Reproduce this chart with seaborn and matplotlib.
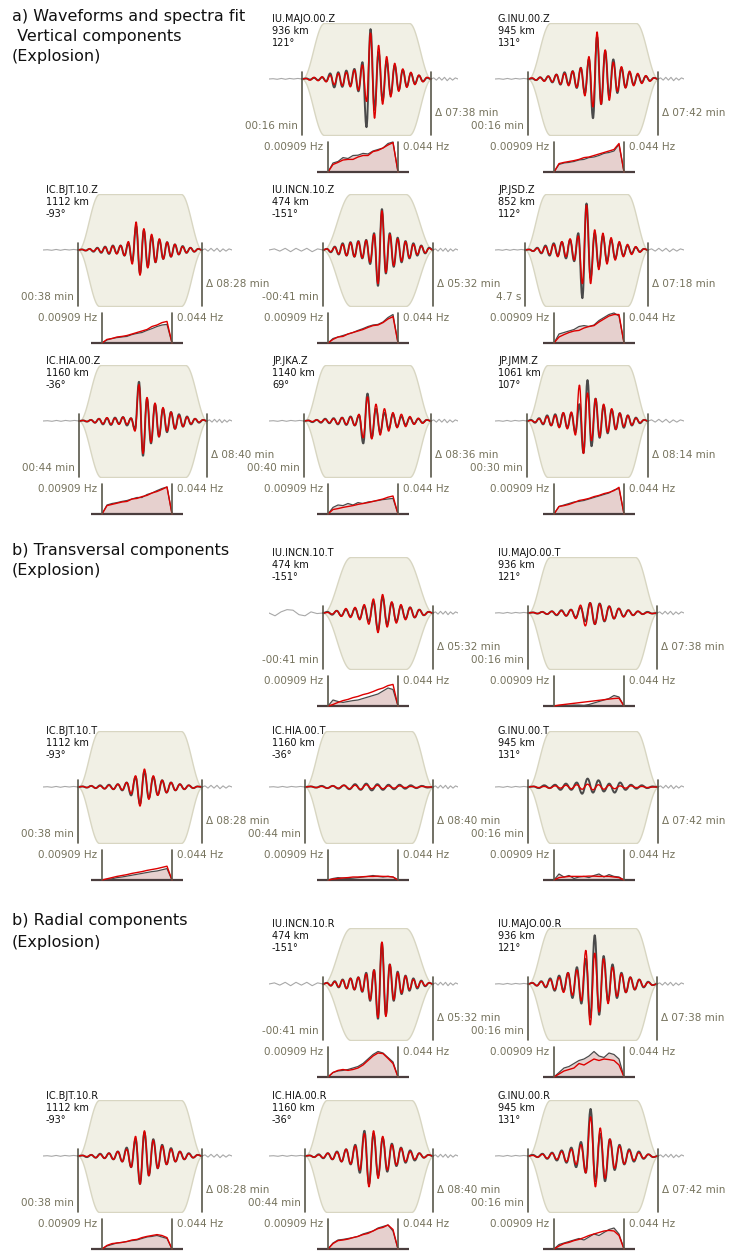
import numpy as np
import matplotlib
matplotlib.use("Agg")
import matplotlib.pyplot as plt
from matplotlib.path import Path
from matplotlib.patches import PathPatch
import seaborn as sns

# --- station metadata -------------------------------------------------------
stations = ["IU.MAJO.00", "G.INU.00", "IC.BJT.10", "IU.INCN.10",
            "JP.JSD", "IC.HIA.00", "JP.JKA", "JP.JMM"]
dist_km = [936, 945, 1112, 474, 852, 1160, 1140, 1061]
azimuth = [121, 131, -93, -151, 112, -36, 69, 107]
win_start = [16, 16, 38, -41, 4.7, 44, 40, 30]        # s
win_len = [458, 462, 508, 332, 438, 520, 516, 494]    # s

F_LO, F_HI = 0.00909, 0.044

# --- waveform extrema (normalised, 1 = taper height) -------------------------
majo_z_obs = [0, .01, -.01, .02, -.02, .03, -.04, .1, -.15, .12, -.14, .15, -.12, .18, -.22, .3, -.86, .89, -.55, .48, -.38, .32, -.28, .24, -.2, .16, -.13, .1, -.08, .06, -.04, .02, 0]
majo_z_syn = [0, .01, -.02, .03, -.03, .04, -.05, .07, -.1, .1, -.12, .12, -.14, .16, -.2, .25, -.4, .82, -.7, .6, -.45, .4, -.32, .28, -.22, .18, -.15, .12, -.1, .07, -.05, .03, 0]
inu_z_obs = [0, .01, -.02, .03, -.03, .05, -.06, .08, -.1, .12, -.1, .14, -.16, .2, -.25, .35, -.7, .75, -.45, .5, -.3, .35, -.25, .2, -.15, .12, -.1, .08, -.06, .05, -.03, .02, 0]
inu_z_syn = [0, .02, -.02, .03, -.04, .05, -.05, .08, -.09, .1, -.12, .14, -.15, .2, -.3, .4, -.5, .84, -.45, .52, -.38, .3, -.22, .22, -.16, .14, -.12, .1, -.08, .06, -.04, .02, 0]
bjt_z_obs = [0, .01, -.01, .02, -.03, .04, -.05, .06, -.07, .08, -.06, .08, -.1, .12, -.2, .42, -.42, .35, -.3, .25, -.22, .18, -.16, .14, -.12, .1, -.08, .07, -.05, .04, -.03, .02, 0]
bjt_z_syn = [0, .01, -.01, .02, -.02, .03, -.04, .05, -.06, .07, -.07, .08, -.1, .15, -.25, .5, -.45, .38, -.32, .28, -.22, .2, -.16, .14, -.12, .1, -.08, .06, -.05, .04, -.03, .02, 0]
incn_z_obs = [0, .02, -.04, .06, -.08, .12, -.1, .14, -.12, .16, -.15, .18, -.25, .3, -.64, .73, -.42, .3, -.3, .22, -.22, .16, -.15, .12, -.1, .08, -.06, .04, 0]
incn_z_syn = [0, .02, -.03, .05, -.07, .1, -.1, .13, -.12, .15, -.14, .17, -.22, .28, -.6, .7, -.4, .28, -.28, .2, -.2, .15, -.14, .1, -.08, .07, -.05, .03, 0]
jsd_z_obs = [0, .01, -.02, .04, -.06, .08, -.1, .12, -.1, .14, -.15, .18, -.2, .3, -.86, .83, -.5, .3, -.3, .25, -.2, .18, -.15, .12, -.1, .08, -.06, .05, -.03, .02, 0]
jsd_z_syn = [0, .01, -.02, .03, -.05, .06, -.08, .1, -.12, .15, -.12, .2, -.18, .25, -.6, .8, -.6, .36, -.35, .3, -.25, .22, -.18, .15, -.12, .1, -.08, .06, -.04, .02, 0]
hia_z_obs = [0, .01, -.01, .02, -.03, .04, -.06, .05, -.07, .06, -.05, .07, -.08, .05, -.15, .7, -.62, .4, -.4, .3, -.28, .22, -.2, .16, -.14, .12, -.1, .08, -.06, .04, -.03, .02, 0]
hia_z_syn = [0, .01, -.01, .02, -.03, .04, -.05, .06, -.06, .05, -.06, .07, -.06, .05, -.18, .65, -.58, .42, -.38, .32, -.28, .24, -.18, .16, -.14, .1, -.1, .07, -.05, .04, -.02, .02, 0]
jka_z_obs = [0, .01, -.02, .02, -.03, .04, -.04, .05, -.06, .06, -.07, .08, -.08, .1, -.4, .49, -.3, .22, -.2, .15, -.14, .12, -.1, .08, -.07, .06, -.05, .04, -.03, .02, 0]
jka_z_syn = [0, .01, -.01, .02, -.02, .03, -.03, .04, -.05, .06, -.06, .07, -.08, .12, -.3, .43, -.32, .3, -.25, .22, -.18, .15, -.12, .12, -.1, .08, -.06, .05, -.04, .02, 0]
jmm_z_obs = [0, .02, -.03, .05, -.06, .1, -.08, .12, -.1, .14, -.12, .14, -.2, .3, -.57, .73, -.45, .4, -.3, .28, -.22, .2, -.15, .14, -.12, .1, -.08, .06, -.04, .02, 0]
jmm_z_syn = [0, .01, -.02, .04, -.05, .08, -.08, .1, -.12, .15, -.14, .16, -.25, .64, -.58, .5, -.35, .4, -.28, .3, -.2, .22, -.15, .14, -.1, .1, -.07, .05, -.03, .02, 0]

incn_t_obs = [0, .02, -.03, .04, -.05, .06, -.06, .08, -.1, .12, -.15, .2, -.3, .28, -.2, .18, -.15, .12, -.1, .1, -.08, .06, -.04, .02, 0]
incn_t_syn = [0, .01, -.02, .04, -.06, .08, -.08, .1, -.12, .15, -.2, .25, -.35, .33, -.25, .2, -.18, .15, -.12, .1, -.08, .06, -.04, .02, 0]
majo_t_obs = [0, .01, -.01, .02, -.02, .03, -.04, .05, -.05, .06, -.08, .1, -.15, .18, -.2, .17, -.15, .12, -.1, .08, -.06, .05, -.04, .03, -.02, .02, -.01, 0]
majo_t_syn = [0, .01, -.01, .02, -.02, .03, -.03, .04, -.05, .06, -.1, .14, -.23, .18, -.2, .16, -.14, .12, -.1, .08, -.07, .05, -.04, .03, -.02, .01, -.01, 0]
bjt_t_obs = [0, .01, -.01, .02, -.02, .03, -.03, .04, -.04, .05, -.06, .08, -.15, .18, -.3, .28, -.2, .18, -.14, .12, -.1, .08, -.06, .05, -.04, .03, -.02, .01, 0]
bjt_t_syn = [0, .01, -.01, .02, -.02, .02, -.03, .03, -.04, .05, -.05, .08, -.12, .2, -.34, .32, -.22, .2, -.15, .12, -.1, .08, -.06, .05, -.04, .03, -.02, .01, 0]
hia_t_obs = [0, .01, -.01, .02, -.02, .02, -.03, .03, -.04, .05, -.05, .06, -.06, .05, -.05, .04, -.04, .04, -.03, .03, -.02, .02, -.01, 0]
hia_t_syn = [0, .01, -.01, .01, -.02, .02, -.02, .03, -.03, .03, -.04, .04, -.03, .03, -.03, .02, -.02, .02, -.01, .01, -.01, .01, 0, 0]
inu_t_obs = [0, .01, -.02, .03, -.02, .04, -.05, .06, -.05, .08, -.12, .15, -.1, .12, -.08, .06, -.1, .08, -.05, .04, -.03, .03, -.02, .01, 0]
inu_t_syn = [0, .01, -.01, .01, -.02, .02, -.02, .03, -.03, .04, -.04, .05, -.05, .04, -.04, .03, -.03, .02, -.02, .02, -.01, .01, -.01, 0, 0]

incn_r_obs = [0, .02, -.03, .05, -.06, .08, -.08, .1, -.1, .12, -.14, .2, -.3, .25, -.62, .73, -.55, .35, -.3, .22, -.18, .15, -.12, .1, -.08, .06, -.04, .02, 0]
incn_r_syn = [0, .02, -.03, .04, -.05, .07, -.08, .1, -.1, .12, -.13, .18, -.28, .25, -.6, .75, -.58, .35, -.28, .2, -.16, .14, -.1, .08, -.06, .05, -.03, .02, 0]
majo_r_obs = [0, .02, -.03, .05, -.06, .1, -.12, .15, -.12, .2, -.25, .3, -.35, .45, -.6, .87, -.55, .5, -.3, .35, -.25, .2, -.15, .12, -.1, .08, -.06, .04, -.02, 0]
majo_r_syn = [0, .02, -.03, .04, -.05, .08, -.1, .12, -.15, .2, -.2, .25, -.3, .6, -.73, .55, -.5, .45, -.35, .3, -.22, .18, -.15, .12, -.1, .08, -.05, .03, -.02, 0]
bjt_r_obs = [0, .01, -.02, .02, -.03, .04, -.04, .05, -.06, .08, -.1, .15, -.2, .3, -.5, .42, -.35, .3, -.22, .2, -.15, .14, -.1, .08, -.06, .05, -.03, .02, 0]
bjt_r_syn = [0, .01, -.01, .02, -.03, .03, -.04, .05, -.06, .08, -.1, .12, -.2, .35, -.5, .45, -.35, .28, -.22, .18, -.15, .12, -.1, .08, -.06, .04, -.03, .02, 0]
hia_r_obs = [0, .01, -.02, .03, -.04, .05, -.06, .08, -.1, .12, -.15, .2, -.3, .45, -.5, .4, -.35, .32, -.28, .22, -.18, .15, -.12, .1, -.08, .05, -.03, .02, 0]
hia_r_syn = [0, .01, -.02, .02, -.03, .05, -.06, .07, -.1, .12, -.14, .18, -.25, .4, -.55, .45, -.4, .35, -.25, .2, -.16, .14, -.1, .08, -.06, .05, -.03, .02, 0]
inu_r_obs = [0, .02, -.02, .04, -.05, .06, -.08, .1, -.12, .15, -.2, .25, -.3, .84, -.45, .4, -.45, .3, -.25, .2, -.15, .12, -.1, .08, -.05, .03, -.02, 0]
inu_r_syn = [0, .01, -.02, .03, -.04, .05, -.06, .08, -.1, .12, -.15, .2, -.3, .7, -.55, .5, -.4, .3, -.22, .18, -.14, .1, -.08, .06, -.04, .03, -.02, 0]

# grey unwindowed trace before / after the window
grey_pre = [0, .005, -.005, .01, -.005, .01, 0, .01, 0]
grey_post = [0, .02, -.02, .03, -.02, .03, -.03, .02, -.02, .02, 0]
incn_pre = [0, .02, -.02, .03, -.03, .03, -.02, .03, -.03, .02, 0]
incn_t_pre = [0, -.05, .02, .06, .05, -.03, -.05, .02, -.01, 0]

# --- amplitude spectra between F_LO and F_HI (normalised) -------------------
majo_z_sobs = [0, .3, .35, .48, .45, .55, .56, .62, .6, .7, .75, .8, .95, 1.0, 0]
majo_z_ssyn = [0, .25, .32, .4, .42, .42, .5, .55, .55, .68, .72, .8, .9, .98, 0]
inu_z_sobs = [0, .25, .3, .32, .35, .4, .42, .48, .5, .55, .62, .65, .7, .92, 0]
inu_z_ssyn = [0, .28, .32, .35, .38, .42, .48, .5, .55, .6, .65, .7, .75, .95, 0]
bjt_z_sobs = [0, .1, .15, .18, .2, .22, .28, .32, .35, .42, .48, .55, .6, .62, 0]
bjt_z_ssyn = [0, .12, .15, .2, .22, .25, .3, .35, .4, .45, .55, .6, .68, .72, 0]
incn_z_sobs = [0, .15, .2, .25, .3, .35, .42, .48, .55, .6, .62, .7, .85, .95, 0]
incn_z_ssyn = [0, .12, .2, .22, .3, .35, .4, .45, .52, .58, .6, .68, .8, .88, 0]
jsd_z_sobs = [0, .3, .35, .4, .45, .55, .58, .55, .6, .75, .85, .95, 1.0, .9, 0]
jsd_z_ssyn = [0, .2, .28, .35, .4, .42, .5, .55, .58, .7, .8, .9, .95, .95, 0]
hia_z_sobs = [0, .3, .35, .38, .42, .45, .5, .55, .55, .65, .7, .78, .85, .9, 0]
hia_z_ssyn = [0, .28, .32, .36, .4, .42, .5, .52, .58, .62, .7, .75, .82, .9, 0]
jka_z_sobs = [0, .22, .3, .28, .35, .3, .38, .35, .4, .42, .45, .48, .5, .52, 0]
jka_z_ssyn = [0, .15, .18, .22, .25, .28, .32, .35, .38, .42, .46, .5, .56, .6, 0]
jmm_z_sobs = [0, .25, .3, .35, .4, .42, .45, .5, .55, .6, .65, .7, .8, .85, 0]
jmm_z_ssyn = [0, .25, .28, .32, .38, .45, .48, .52, .58, .62, .68, .72, .78, .89, 0]
incn_t_sobs = [0, .2, .15, .12, .15, .18, .2, .25, .3, .35, .4, .5, .6, .55, 0]
incn_t_ssyn = [0, .05, .12, .18, .22, .28, .32, .38, .42, .48, .55, .6, .68, .72, 0]
majo_t_sobs = [0, .01, .02, .02, .03, .03, .02, .05, .1, .15, .2, .25, .35, .3, 0]
majo_t_ssyn = [0, .03, .05, .07, .09, .11, .13, .15, .17, .19, .21, .23, .25, .26, 0]
bjt_t_sobs = [0, .02, .04, .08, .1, .13, .16, .19, .22, .25, .28, .3, .34, .38, 0]
bjt_t_ssyn = [0, .04, .08, .12, .15, .18, .22, .25, .28, .32, .35, .38, .42, .46, 0]
hia_t_sobs = [0, .05, .08, .06, .05, .06, .08, .1, .12, .15, .12, .1, .12, .1, 0]
hia_t_ssyn = [0, .03, .05, .07, .08, .1, .1, .11, .12, .12, .13, .12, .12, .1, 0]
inu_t_sobs = [0, .2, .1, .15, .05, .1, .12, .08, .15, .2, .1, .18, .12, .1, 0]
inu_t_ssyn = [0, .08, .1, .12, .12, .12, .12, .13, .13, .12, .12, .12, .1, .08, 0]
incn_r_sobs = [0, .15, .2, .22, .25, .3, .35, .45, .6, .75, .85, .8, .65, .5, 0]
incn_r_ssyn = [0, .15, .22, .25, .22, .25, .3, .4, .55, .7, .8, .78, .62, .45, 0]
majo_r_sobs = [0, .15, .3, .35, .45, .55, .6, .7, .85, .7, .65, .8, .75, .6, 0]
majo_r_ssyn = [0, .1, .2, .25, .3, .45, .4, .5, .6, .55, .6, .58, .55, .4, 0]
bjt_r_sobs = [0, .1, .15, .2, .22, .25, .28, .3, .35, .4, .42, .45, .4, .35, 0]
bjt_r_ssyn = [0, .12, .18, .2, .22, .25, .3, .32, .38, .42, .45, .48, .45, .38, 0]
hia_r_sobs = [0, .2, .3, .32, .35, .38, .42, .5, .55, .6, .7, .75, .8, .6, 0]
hia_r_ssyn = [0, .18, .28, .3, .33, .38, .42, .48, .52, .6, .68, .72, .8, .65, 0]
inu_r_sobs = [0, .15, .2, .25, .3, .35, .3, .4, .5, .45, .55, .65, .7, .5, 0]
inu_r_ssyn = [0, .1, .18, .22, .28, .32, .38, .45, .5, .55, .6, .62, .6, .45, 0]

# --- layout (pixels) ---------------------------------------------------------
W, H = 729, 1252
COL_X = [43, 269, 495]
ROW_Y = {"a1": 23, "a2": 194, "a3": 365, "b1": 557, "b2": 731, "c1": 928, "c2": 1100}
LABEL_DY = {"b2": 4}
WIN_PX = {"IU.MAJO.00": (33, 162), "G.INU.00": (33, 163), "IC.BJT.10": (35, 159),
          "IU.INCN.10": (54, 164), "JP.JSD": (30, 153), "IC.HIA.00": (36, 164),
          "JP.JKA": (35, 162), "JP.JMM": (32, 153)}

panels = [
    ("a1", 1, "IU.MAJO.00", "Z", majo_z_obs, majo_z_syn, majo_z_sobs, majo_z_ssyn, grey_pre),
    ("a1", 2, "G.INU.00", "Z", inu_z_obs, inu_z_syn, inu_z_sobs, inu_z_ssyn, grey_pre),
    ("a2", 0, "IC.BJT.10", "Z", bjt_z_obs, bjt_z_syn, bjt_z_sobs, bjt_z_ssyn, grey_pre),
    ("a2", 1, "IU.INCN.10", "Z", incn_z_obs, incn_z_syn, incn_z_sobs, incn_z_ssyn, incn_pre),
    ("a2", 2, "JP.JSD", "Z", jsd_z_obs, jsd_z_syn, jsd_z_sobs, jsd_z_ssyn, grey_pre),
    ("a3", 0, "IC.HIA.00", "Z", hia_z_obs, hia_z_syn, hia_z_sobs, hia_z_ssyn, grey_pre),
    ("a3", 1, "JP.JKA", "Z", jka_z_obs, jka_z_syn, jka_z_sobs, jka_z_ssyn, grey_pre),
    ("a3", 2, "JP.JMM", "Z", jmm_z_obs, jmm_z_syn, jmm_z_sobs, jmm_z_ssyn, grey_pre),
    ("b1", 1, "IU.INCN.10", "T", incn_t_obs, incn_t_syn, incn_t_sobs, incn_t_ssyn, incn_t_pre),
    ("b1", 2, "IU.MAJO.00", "T", majo_t_obs, majo_t_syn, majo_t_sobs, majo_t_ssyn, grey_pre),
    ("b2", 0, "IC.BJT.10", "T", bjt_t_obs, bjt_t_syn, bjt_t_sobs, bjt_t_ssyn, grey_pre),
    ("b2", 1, "IC.HIA.00", "T", hia_t_obs, hia_t_syn, hia_t_sobs, hia_t_ssyn, grey_pre),
    ("b2", 2, "G.INU.00", "T", inu_t_obs, inu_t_syn, inu_t_sobs, inu_t_ssyn, grey_pre),
    ("c1", 1, "IU.INCN.10", "R", incn_r_obs, incn_r_syn, incn_r_sobs, incn_r_ssyn, incn_pre),
    ("c1", 2, "IU.MAJO.00", "R", majo_r_obs, majo_r_syn, majo_r_sobs, majo_r_ssyn, grey_pre),
    ("c2", 0, "IC.BJT.10", "R", bjt_r_obs, bjt_r_syn, bjt_r_sobs, bjt_r_ssyn, grey_pre),
    ("c2", 1, "IC.HIA.00", "R", hia_r_obs, hia_r_syn, hia_r_sobs, hia_r_ssyn, grey_pre),
    ("c2", 2, "G.INU.00", "R", inu_r_obs, inu_r_syn, inu_r_sobs, inu_r_ssyn, grey_pre),
]

titles = [(17, "a) Waveforms and spectra fit"), (37, " Vertical components"), (57, "(Explosion)"),
          (550, "b) Transversal components"), (571, "(Explosion)"),
          (921, "b) Radial components"), (942, "(Explosion)")]

# colours
TAPER_FILL = "#f1f0e5"
TAPER_EDGE = "#d8d6c2"
WIN_LINE = "#59574a"
LABEL_C = "#75725c"
OBS_C = "#4a4a4a"
SYN_C = "#dd0000"
GREY_C = "#a8a8a8"
SPEC_FILL = "#e6d0ce"

sns.set_theme(style="white")
plt.rcParams["font.family"] = ["DejaVu Sans"]

fig = plt.figure(figsize=(W / 100, H / 100), dpi=100)


def rect(x, y, w, h):
    return [x / W, 1 - (y + h) / H, w / W, h / H]


def fmt_start(t):
    if abs(t) < 10:
        return f"{t:.1f} s"
    sign = "-" if t < 0 else ""
    t = abs(int(round(t)))
    return f"{sign}{t // 60:02d}:{t % 60:02d} min"


def fmt_len(t):
    t = int(round(t))
    return f"\u0394 {t // 60:02d}:{t % 60:02d} min"


def cos_ramp(n):
    u = np.linspace(0, 1, n)
    return 0.5 * (1 - np.cos(np.pi * u))


def wiggle(ax, x, y, color, lw, z):
    # draw the trace through its extrema with flat tangents (bezier segments)
    verts, codes = [(x[0], y[0])], [Path.MOVETO]
    for k in range(1, len(x)):
        dx = x[k] - x[k - 1]
        verts += [(x[k - 1] + 0.4 * dx, y[k - 1]), (x[k] - 0.4 * dx, y[k]), (x[k], y[k])]
        codes += [Path.CURVE4] * 3
    ax.add_patch(PathPatch(Path(verts, codes), facecolor="none", edgecolor=color,
                           lw=lw, zorder=z, capstyle="round", joinstyle="round"))


for row, col, st, comp, obs, syn, sobs, ssyn, pre in panels:
    i = stations.index(st)
    ox, oy = COL_X[col], ROW_Y[row]
    a_px, d_px = WIN_PX[st]
    t0, dur = win_start[i], win_len[i]
    t1 = t0 + dur
    sec_px = dur / (d_px - a_px)
    xmin, xmax = t0 - a_px * sec_px, t0 + (189 - a_px) * sec_px

    ax = fig.add_axes(rect(ox, oy, 189, 112))
    ax.set_xlim(xmin, xmax)
    ax.set_ylim(-1, 1)
    ax.axis("off")

    # cosine taper shape
    ramp = 0.25 if st == "IU.INCN.10" else 0.17
    tb, tc = t0 + ramp * dur, t1 - ramp * dur
    tt = np.concatenate([np.linspace(t0, tb, 40), np.linspace(tc, t1, 40)])
    amp = np.concatenate([cos_ramp(40), cos_ramp(40)[::-1]])
    ax.fill_between(tt, -amp, amp, facecolor=TAPER_FILL, edgecolor=TAPER_EDGE, lw=1.0, zorder=1)

    # raw trace outside window
    sns.lineplot(x=np.linspace(xmin, t0, len(pre)), y=pre, ax=ax, color=GREY_C, lw=0.8,
                 sort=False, estimator=None, zorder=2)
    sns.lineplot(x=np.linspace(t1, xmax, len(grey_post)), y=grey_post, ax=ax, color=GREY_C,
                 lw=0.8, sort=False, estimator=None, zorder=2)

    # observed (below, wider) and synthetic (on top)
    wiggle(ax, np.linspace(t0, t1, len(obs)), obs, OBS_C, 1.4, 3)
    wiggle(ax, np.linspace(t0, t1, len(syn)), syn, SYN_C, 1.0, 4)

    for tv in (t0, t1):
        ax.plot([tv, tv], [0.12, -1], color=WIN_LINE, lw=1.2, zorder=5, clip_on=False)

    # labels
    ly = oy - 4 + LABEL_DY.get(row, 0)
    for k, s in enumerate([f"{st}.{comp}", f"{dist_km[i]} km", f"{azimuth[i]}\u00b0"]):
        fig.text((ox + 3) / W, 1 - (ly + 12 * k) / H, s, fontsize=7, va="center", ha="left",
                 color="#111111")
    fig.text((ox + a_px - 4) / W, 1 - (oy + 103) / H, fmt_start(t0), fontsize=7.5,
             va="center", ha="right", color=LABEL_C)
    fig.text((ox + d_px + 4) / W, 1 - (oy + 90) / H, fmt_len(dur), fontsize=7.5,
             va="center", ha="left", color=LABEL_C)

    # spectrum
    axs = fig.add_axes(rect(ox + 48, oy + 117, 92, 34))
    step = (F_HI - F_LO) / 70
    axs.set_xlim(F_LO - 11 * step, F_LO + 81 * step)
    axs.set_ylim(-2 / 30, 1 + 2 / 30)
    axs.axis("off")
    f = np.linspace(F_LO, F_HI, len(sobs))
    axs.fill_between(f, 0, sobs, color=SPEC_FILL, lw=0, zorder=1)
    sns.lineplot(x=f, y=sobs, ax=axs, color=OBS_C, lw=0.9, sort=False, estimator=None, zorder=3)
    sns.lineplot(x=f, y=ssyn, ax=axs, color=SYN_C, lw=1.0, sort=False, estimator=None, zorder=4)
    axs.axhline(0, color="#4a3d3d", lw=1.6, zorder=2)
    for fv in (F_LO, F_HI):
        axs.plot([fv, fv], [0, 1], color=WIN_LINE, lw=1.2, zorder=5)
    fig.text((ox + 54) / W, 1 - (oy + 124) / H, f"{F_LO} Hz", fontsize=7.5, va="center",
             ha="right", color=LABEL_C)
    fig.text((ox + 134) / W, 1 - (oy + 124) / H, f"{F_HI} Hz", fontsize=7.5, va="center",
             ha="left", color=LABEL_C)

for y, s in titles:
    fig.text(12 / W, 1 - y / H, s, fontsize=11.5, va="center", ha="left", color="#111111")

fig.savefig("out.png", dpi=100)
